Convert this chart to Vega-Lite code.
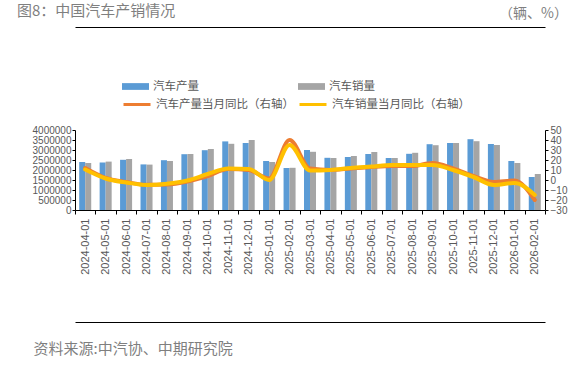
{
  "$schema": "https://vega.github.io/schema/vega-lite/v6.json",
  "width": 470,
  "height": 80,
  "autosize": "none",
  "padding": {"left": 75, "top": 130, "right": 34, "bottom": 158},
  "background": "white",
  "title": {
    "text": "图8：中国汽车产销情况",
    "anchor": "start",
    "frame": "group",
    "font": "Noto Sans CJK SC",
    "fontSize": 15,
    "fontWeight": "normal",
    "color": "#7f7f7f",
    "offset": 0,
    "baseline": "middle",
    "dx": -58,
    "dy": 20
  },
  "config": {
    "view": {"stroke": null},
    "axis": {"grid": false},
    "legend": {"padding": 0}
  },
  "datasets": {
    "bars": [
      {"date": "2024-04-01", "series": "汽车产量", "value": 2400000},
      {"date": "2024-04-01", "series": "汽车销量", "value": 2350000},
      {"date": "2024-05-01", "series": "汽车产量", "value": 2370000},
      {"date": "2024-05-01", "series": "汽车销量", "value": 2420000},
      {"date": "2024-06-01", "series": "汽车产量", "value": 2510000},
      {"date": "2024-06-01", "series": "汽车销量", "value": 2550000},
      {"date": "2024-07-01", "series": "汽车产量", "value": 2280000},
      {"date": "2024-07-01", "series": "汽车销量", "value": 2270000},
      {"date": "2024-08-01", "series": "汽车产量", "value": 2490000},
      {"date": "2024-08-01", "series": "汽车销量", "value": 2450000},
      {"date": "2024-09-01", "series": "汽车产量", "value": 2790000},
      {"date": "2024-09-01", "series": "汽车销量", "value": 2800000},
      {"date": "2024-10-01", "series": "汽车产量", "value": 2990000},
      {"date": "2024-10-01", "series": "汽车销量", "value": 3050000},
      {"date": "2024-11-01", "series": "汽车产量", "value": 3430000},
      {"date": "2024-11-01", "series": "汽车销量", "value": 3310000},
      {"date": "2024-12-01", "series": "汽车产量", "value": 3350000},
      {"date": "2024-12-01", "series": "汽车销量", "value": 3500000},
      {"date": "2025-01-01", "series": "汽车产量", "value": 2450000},
      {"date": "2025-01-01", "series": "汽车销量", "value": 2400000},
      {"date": "2025-02-01", "series": "汽车产量", "value": 2100000},
      {"date": "2025-02-01", "series": "汽车销量", "value": 2110000},
      {"date": "2025-03-01", "series": "汽车产量", "value": 3000000},
      {"date": "2025-03-01", "series": "汽车销量", "value": 2910000},
      {"date": "2025-04-01", "series": "汽车产量", "value": 2610000},
      {"date": "2025-04-01", "series": "汽车销量", "value": 2600000},
      {"date": "2025-05-01", "series": "汽车产量", "value": 2650000},
      {"date": "2025-05-01", "series": "汽车销量", "value": 2700000},
      {"date": "2025-06-01", "series": "汽车产量", "value": 2800000},
      {"date": "2025-06-01", "series": "汽车销量", "value": 2900000},
      {"date": "2025-07-01", "series": "汽车产量", "value": 2600000},
      {"date": "2025-07-01", "series": "汽车销量", "value": 2600000},
      {"date": "2025-08-01", "series": "汽车产量", "value": 2810000},
      {"date": "2025-08-01", "series": "汽车销量", "value": 2860000},
      {"date": "2025-09-01", "series": "汽车产量", "value": 3290000},
      {"date": "2025-09-01", "series": "汽车销量", "value": 3240000},
      {"date": "2025-10-01", "series": "汽车产量", "value": 3350000},
      {"date": "2025-10-01", "series": "汽车销量", "value": 3350000},
      {"date": "2025-11-01", "series": "汽车产量", "value": 3540000},
      {"date": "2025-11-01", "series": "汽车销量", "value": 3440000},
      {"date": "2025-12-01", "series": "汽车产量", "value": 3300000},
      {"date": "2025-12-01", "series": "汽车销量", "value": 3250000},
      {"date": "2026-01-01", "series": "汽车产量", "value": 2450000},
      {"date": "2026-01-01", "series": "汽车销量", "value": 2350000},
      {"date": "2026-02-01", "series": "汽车产量", "value": 1650000},
      {"date": "2026-02-01", "series": "汽车销量", "value": 1800000}
    ],
    "lines": [
      {"date": "2024-04-01", "series": "汽车产量当月同比（右轴）", "yoy": 12},
      {"date": "2024-05-01", "series": "汽车产量当月同比（右轴）", "yoy": 2},
      {"date": "2024-06-01", "series": "汽车产量当月同比（右轴）", "yoy": -2},
      {"date": "2024-07-01", "series": "汽车产量当月同比（右轴）", "yoy": -4.8},
      {"date": "2024-08-01", "series": "汽车产量当月同比（右轴）", "yoy": -4.5},
      {"date": "2024-09-01", "series": "汽车产量当月同比（右轴）", "yoy": -1.5},
      {"date": "2024-10-01", "series": "汽车产量当月同比（右轴）", "yoy": 4},
      {"date": "2024-11-01", "series": "汽车产量当月同比（右轴）", "yoy": 11},
      {"date": "2024-12-01", "series": "汽车产量当月同比（右轴）", "yoy": 10},
      {"date": "2025-01-01", "series": "汽车产量当月同比（右轴）", "yoy": 1.5},
      {"date": "2025-02-01", "series": "汽车产量当月同比（右轴）", "yoy": 40},
      {"date": "2025-03-01", "series": "汽车产量当月同比（右轴）", "yoy": 11.5},
      {"date": "2025-04-01", "series": "汽车产量当月同比（右轴）", "yoy": 10},
      {"date": "2025-05-01", "series": "汽车产量当月同比（右轴）", "yoy": 11.5},
      {"date": "2025-06-01", "series": "汽车产量当月同比（右轴）", "yoy": 13},
      {"date": "2025-07-01", "series": "汽车产量当月同比（右轴）", "yoy": 14},
      {"date": "2025-08-01", "series": "汽车产量当月同比（右轴）", "yoy": 14},
      {"date": "2025-09-01", "series": "汽车产量当月同比（右轴）", "yoy": 17},
      {"date": "2025-10-01", "series": "汽车产量当月同比（右轴）", "yoy": 11.5},
      {"date": "2025-11-01", "series": "汽车产量当月同比（右轴）", "yoy": 4},
      {"date": "2025-12-01", "series": "汽车产量当月同比（右轴）", "yoy": -2},
      {"date": "2026-01-01", "series": "汽车产量当月同比（右轴）", "yoy": -0.5},
      {"date": "2026-02-01", "series": "汽车产量当月同比（右轴）", "yoy": -20},
      {"date": "2024-04-01", "series": "汽车销量当月同比（右轴）", "yoy": 10.5},
      {"date": "2024-05-01", "series": "汽车销量当月同比（右轴）", "yoy": 1.5},
      {"date": "2024-06-01", "series": "汽车销量当月同比（右轴）", "yoy": -2.5},
      {"date": "2024-07-01", "series": "汽车销量当月同比（右轴）", "yoy": -5},
      {"date": "2024-08-01", "series": "汽车销量当月同比（右轴）", "yoy": -3.8},
      {"date": "2024-09-01", "series": "汽车销量当月同比（右轴）", "yoy": -0.5},
      {"date": "2024-10-01", "series": "汽车销量当月同比（右轴）", "yoy": 6},
      {"date": "2024-11-01", "series": "汽车销量当月同比（右轴）", "yoy": 11.5},
      {"date": "2024-12-01", "series": "汽车销量当月同比（右轴）", "yoy": 11},
      {"date": "2025-01-01", "series": "汽车销量当月同比（右轴）", "yoy": 0},
      {"date": "2025-02-01", "series": "汽车销量当月同比（右轴）", "yoy": 35},
      {"date": "2025-03-01", "series": "汽车销量当月同比（右轴）", "yoy": 9.5},
      {"date": "2025-04-01", "series": "汽车销量当月同比（右轴）", "yoy": 10},
      {"date": "2025-05-01", "series": "汽车销量当月同比（右轴）", "yoy": 12},
      {"date": "2025-06-01", "series": "汽车销量当月同比（右轴）", "yoy": 13.5},
      {"date": "2025-07-01", "series": "汽车销量当月同比（右轴）", "yoy": 15},
      {"date": "2025-08-01", "series": "汽车销量当月同比（右轴）", "yoy": 15},
      {"date": "2025-09-01", "series": "汽车销量当月同比（右轴）", "yoy": 15},
      {"date": "2025-10-01", "series": "汽车销量当月同比（右轴）", "yoy": 10},
      {"date": "2025-11-01", "series": "汽车销量当月同比（右轴）", "yoy": 3},
      {"date": "2025-12-01", "series": "汽车销量当月同比（右轴）", "yoy": -5},
      {"date": "2026-01-01", "series": "汽车销量当月同比（右轴）", "yoy": -3},
      {"date": "2026-02-01", "series": "汽车销量当月同比（右轴）", "yoy": -15}
    ]
  },
  "resolve": {
    "scale": {"y": "independent"},
    "axis": {"x": "independent", "y": "independent"}
  },
  "layer": [
    {
      "data": {"name": "bars"},
      "mark": {"type": "bar"},
      "encoding": {
        "x": {
          "field": "date",
          "type": "nominal",
          "scale": {"type": "band", "paddingInner": 0, "paddingOuter": 0},
          "axis": {
            "orient": "bottom",
            "labelAngle": -90,
            "labelFont": "Liberation Sans",
            "labelFontSize": 11,
            "labelColor": "#595959",
            "labelPadding": 4,
            "labelOverlap": false,
            "tickBand": "extent",
            "tickSize": 4,
            "tickColor": "#000000",
            "domainColor": "#000000",
            "title": "资料来源:中汽协、中期研究院",
            "titleFont": "Noto Sans CJK SC",
            "titleFontSize": 15,
            "titleFontWeight": "normal",
            "titleColor": "#7f7f7f",
            "titleAngle": 0,
            "titleAlign": "left",
            "titleBaseline": "middle",
            "titleX": -42,
            "titleY": 138
          }
        },
        "xOffset": {
          "field": "series",
          "type": "nominal",
          "sort": ["汽车产量", "汽车销量"],
          "scale": {"paddingInner": 0, "paddingOuter": 0.7}
        },
        "y": {
          "field": "value",
          "type": "quantitative",
          "scale": {"domain": [0, 4000000], "nice": false},
          "axis": {
            "orient": "left",
            "values": [0, 500000, 1000000, 1500000, 2000000, 2500000, 3000000, 3500000, 4000000],
            "format": "d",
            "labelFont": "Liberation Sans",
            "labelFontSize": 10,
            "labelColor": "#595959",
            "labelPadding": 1,
            "labelOverlap": false,
            "tickSize": 3,
            "tickColor": "#000000",
            "domainColor": "#000000",
            "title": null
          }
        },
        "fill": {
          "field": "series",
          "type": "nominal",
          "scale": {"domain": ["汽车产量", "汽车销量"], "range": ["#5B9BD5", "#A5A5A5"]},
          "legend": {
            "title": null,
            "orient": "none",
            "legendX": 47,
            "legendY": -50,
            "direction": "horizontal",
            "columns": 2,
            "columnPadding": 99,
            "symbolType": "M-1,-0.25L1,-0.25L1,0.25L-1,0.25Z",
            "symbolSize": 729,
            "symbolStrokeWidth": 0,
            "clipHeight": 13,
            "labelFont": "Noto Sans CJK SC",
            "labelFontSize": 11.5,
            "labelColor": "#595959",
            "labelOffset": 4
          }
        }
      }
    },
    {
      "data": {"name": "lines"},
      "transform": [{"filter": "datum.series === '汽车产量当月同比（右轴）'"}],
      "mark": {"type": "line", "interpolate": "monotone", "strokeWidth": 4, "strokeCap": "round"},
      "encoding": {
        "x": {
          "field": "date",
          "type": "nominal",
          "axis": {
            "orient": "top",
            "offset": 103,
            "labels": false,
            "ticks": false,
            "domain": true,
            "domainColor": "#000000",
            "title": null
          }
        },
        "y": {
          "field": "yoy",
          "type": "quantitative",
          "scale": {"domain": [-30, 50], "nice": false},
          "axis": {
            "orient": "right",
            "values": [-30, -20, -10, 0, 10, 20, 30, 40, 50],
            "format": "d",
            "labelFont": "Liberation Sans",
            "labelFontSize": 10,
            "labelColor": "#595959",
            "labelPadding": 2,
            "labelOverlap": false,
            "tickSize": 3,
            "tickColor": "#000000",
            "domainColor": "#000000",
            "title": "（辆、%）",
            "titleFont": "Noto Sans CJK SC",
            "titleFontSize": 14,
            "titleFontWeight": "normal",
            "titleColor": "#7f7f7f",
            "titleAngle": 0,
            "titleAlign": "center",
            "titleBaseline": "middle",
            "titleX": -12,
            "titleY": -117
          }
        },
        "stroke": {
          "field": "series",
          "type": "nominal",
          "scale": {"domain": ["汽车产量当月同比（右轴）", "汽车销量当月同比（右轴）"], "range": ["#ED7D31", "#FFC000"]},
          "legend": {
            "title": null,
            "orient": "none",
            "legendX": 47,
            "legendY": -32,
            "direction": "horizontal",
            "columns": 2,
            "columnPadding": 4,
            "symbolType": "stroke",
            "symbolSize": 729,
            "symbolStrokeWidth": 3,
            "clipHeight": 13,
            "labelFont": "Noto Sans CJK SC",
            "labelFontSize": 11.5,
            "labelColor": "#595959",
            "labelOffset": 4
          }
        }
      }
    },
    {
      "data": {"name": "lines"},
      "transform": [{"filter": "datum.series === '汽车销量当月同比（右轴）'"}],
      "mark": {"type": "line", "interpolate": "monotone", "strokeWidth": 4, "strokeCap": "round"},
      "encoding": {
        "x": {
          "field": "date",
          "type": "nominal",
          "axis": {
            "orient": "bottom",
            "offset": 112,
            "labels": false,
            "ticks": false,
            "domain": true,
            "domainColor": "#000000",
            "title": null
          }
        },
        "y": {
          "field": "yoy",
          "type": "quantitative",
          "scale": {"domain": [-30, 50], "nice": false},
          "axis": null
        },
        "stroke": {"field": "series", "type": "nominal"}
      }
    }
  ]
}
